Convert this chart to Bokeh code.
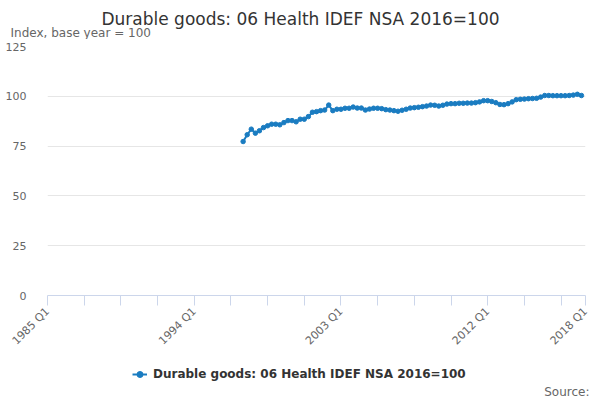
import math
from bokeh.plotting import figure
from bokeh.layouts import column
from bokeh.models import (FixedTicker, Legend, LegendItem, Range1d, ColumnDataSource, Label)
from bokeh.embed import file_html
from bokeh.resources import INLINE

title_text = "Durable goods: 06 Health IDEF NSA 2016=100"
subtitle_text = "Index, base year = 100"
series_name = "Durable goods: 06 Health IDEF NSA 2016=100"
source_text = "Source:"

quarters = [f"{y} Q{q}" for y in range(1997, 2018) for q in range(1, 5)]
values = [
    77.3, 80.7, 83.5, 81.5, 82.7, 84.3, 85.2, 86.0, 86.0, 85.7,
    86.8, 87.8, 87.8, 87.2, 88.5, 88.5, 89.8, 92.0, 92.3, 92.8,
    93.1, 95.6, 92.8, 93.5, 93.5, 94.0, 94.0, 94.6, 94.1, 94.1,
    93.1, 93.6, 94.0, 94.0, 93.8, 93.3, 93.1, 92.8, 92.5, 93.0,
    93.5, 94.1, 94.3, 94.5, 94.8, 95.1, 95.6, 95.5, 95.1, 95.5,
    96.1, 96.3, 96.3, 96.5, 96.5, 96.6, 96.6, 96.8, 97.2, 97.8,
    97.8, 97.4, 96.8, 95.9, 95.8, 96.3, 97.2, 98.3, 98.5, 98.6,
    98.8, 98.9, 99.0, 99.6, 100.4, 100.4, 100.3, 100.3, 100.3, 100.3,
    100.4, 100.6, 101.0, 100.4,
]

x_tick_quarters = ["1985 Q1", "1987 Q2", "1989 Q3", "1991 Q4", "1994 Q1",
                   "1996 Q2", "1998 Q3", "2000 Q4", "2003 Q1", "2005 Q2",
                   "2007 Q3", "2009 Q4", "2012 Q1", "2014 Q2", "2016 Q3",
                   "2018 Q1"]
x_labelled = ["1985 Q1", "1994 Q1", "2003 Q1", "2012 Q1", "2018 Q1"]
y_ticks = [0, 25, 50, 75, 100, 125]


def qx(s):
    y, q = s.split(" Q")
    return int(y) + (int(q) - 1) / 4.0


FONT = "DejaVu Sans"
LINE_COLOR = "#1a7cc1"

src = ColumnDataSource(dict(x=[qx(q) for q in quarters], y=values, q=quarters))


def strip(height):
    f = figure(width=600, height=height, output_backend="svg", toolbar_location=None,
               x_range=Range1d(0, 1), y_range=Range1d(0, 1),
               x_axis_location=None, y_axis_location=None,
               min_border_left=0, min_border_right=0,
               min_border_top=0, min_border_bottom=0)
    if hasattr(f, "frame_align"):
        f.frame_align = False
    f.outline_line_color = None
    f.xgrid.grid_line_color = None
    f.ygrid.grid_line_color = None
    return f


# ---------------- title strip ----------------
p0 = strip(39)
p0.add_layout(Label(x=300, y=21, x_units="screen", y_units="screen", text=title_text,
                    text_align="center", text_baseline="middle", text_font=FONT,
                    text_font_size="17px", text_color="#333333"))
p0.add_layout(Label(x=10, y=7, x_units="screen", y_units="screen", text=subtitle_text,
                    text_align="left", text_baseline="middle", text_font=FONT,
                    text_font_size="12px", text_color="#666666"))

# ---------------- main chart ----------------
p = figure(width=600, height=316, output_backend="svg", toolbar_location=None,
           title=None,
           x_range=Range1d(qx("1985 Q1"), qx("2018 Q1")),
           y_range=Range1d(0, 125),
           min_border_left=47, min_border_right=15, min_border_top=7,
           min_border_bottom=58)
p.outline_line_color = None
p.background_fill_color = "white"
p.border_fill_color = "white"

line_r = p.line("x", "y", source=src, line_color=LINE_COLOR, line_width=2)
sc_r = p.scatter("x", "y", source=src, size=4.5, fill_color=LINE_COLOR,
                 line_color=LINE_COLOR)

xa = p.xaxis[0]
xa.ticker = FixedTicker(ticks=[qx(q) for q in x_tick_quarters], minor_ticks=[])
xa.major_label_overrides = {qx(q): (q if q in x_labelled else "") for q in x_tick_quarters}
xa.major_label_orientation = math.pi / 4
xa.axis_line_color = "#ccd6eb"
xa.major_tick_line_color = "#ccd6eb"
xa.major_tick_out = 10
xa.major_tick_in = 0
xa.minor_tick_line_color = None
xa.major_label_text_font = FONT
xa.major_label_text_font_size = "11px"
xa.major_label_text_color = "#666666"
xa.major_label_standoff = 4

ya = p.yaxis[0]
ya.ticker = FixedTicker(ticks=y_ticks, minor_ticks=[])
ya.axis_line_color = None
ya.major_tick_line_color = None
ya.minor_tick_line_color = None
ya.major_label_text_font = FONT
ya.major_label_text_font_size = "11px"
ya.major_label_text_color = "#666666"
ya.major_label_standoff = 15

p.xgrid.grid_line_color = None
p.ygrid.grid_line_color = "#e6e6e6"
p.ygrid.ticker = FixedTicker(ticks=y_ticks)

# ---------------- legend / source strip ----------------
p2 = strip(45)
# the same series, outside this strip's view: only used for the legend glyph
lg_line = p2.line("x", "y", source=src, line_color=LINE_COLOR, line_width=2)
lg_pt = p2.scatter("x", "y", source=src, size=4.5, fill_color=LINE_COLOR,
                   line_color=LINE_COLOR)

legend = Legend(items=[LegendItem(label=series_name, renderers=[lg_line, lg_pt], index=0)],
                location=(132, 18), orientation="horizontal", padding=0, margin=0,
                border_line_color=None, background_fill_alpha=0,
                glyph_width=15, glyph_height=16, label_height=16,
                label_standoff=6,
                label_text_font=FONT, label_text_font_size="12px",
                label_text_font_style="bold", label_text_color="#333333")
p2.add_layout(legend)

p2.add_layout(Label(x=589, y=9, x_units="screen", y_units="screen", text=source_text,
                    text_align="right", text_baseline="middle", text_font=FONT,
                    text_font_size="12px", text_color="#666666"))

layout = column(p0, p, p2, spacing=0)
open("out.html", "w").write(file_html(layout, INLINE))
